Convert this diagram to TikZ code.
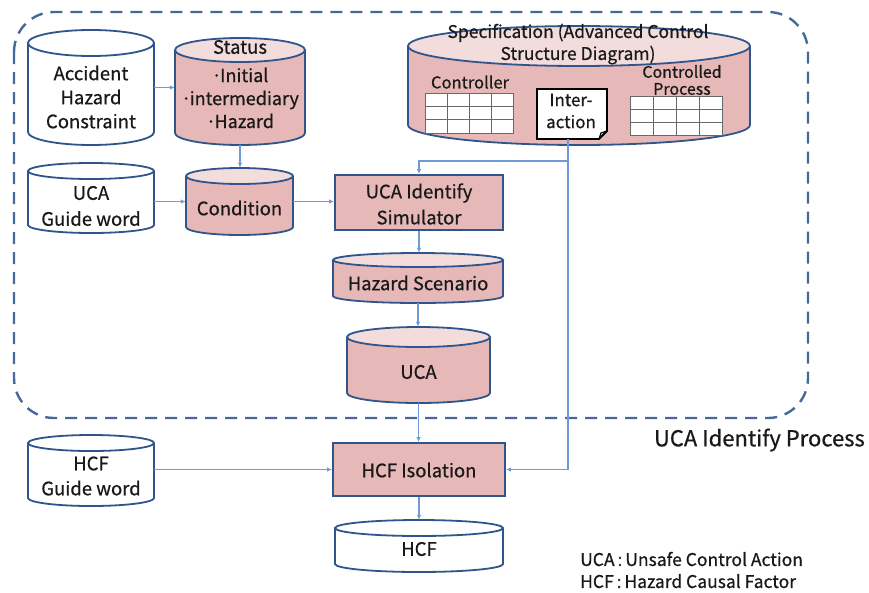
\documentclass[tikz,border=0pt]{standalone}
\usepackage{fontspec}
\setmainfont{Noto Sans CJK JP}[FakeBold=0.6]
\newfontfamily\heavyfont{Noto Sans CJK JP}[FakeBold=0.6]
\usetikzlibrary{arrows.meta}
\definecolor{frameblue}{RGB}{70,105,155}
\definecolor{edgeblue}{RGB}{47,85,140}
\definecolor{arrowblue}{RGB}{110,155,215}
\definecolor{pinkbody}{RGB}{230,184,183}
\definecolor{pinktop}{RGB}{242,221,220}
\definecolor{whitebody}{RGB}{255,255,255}
\definecolor{whitetop}{RGB}{255,255,255}
\definecolor{gridgray}{RGB}{105,105,105}
\newcommand\drawcyl[7]{%
  \pgfmathsetmacro\cyx{(#2+#4)/2}%
  \pgfmathsetmacro\cyrx{(#4-#2)/2}%
  \pgfmathsetmacro\cyt{#3+#6}%
  \pgfmathsetmacro\cyb{#5-#6}%
  \pgfmathsetmacro\cyy{(#3+#5)/2}%
  \pgfmathsetmacro\cyw{#4-#2}%
  \pgfmathsetmacro\cyh{#5-#3}%
  \fill[#7body] (#2,\cyt) rectangle (#4,\cyb);
  \fill[#7body] (\cyx,\cyb) ellipse[x radius=\cyrx, y radius=#6];
  \draw[cylline] (#2,\cyt) -- (#2,\cyb) arc[start angle=180, end angle=0, x radius=\cyrx, y radius=#6] -- (#4,\cyt);
  \draw[cylline, fill=#7top] (\cyx,\cyt) ellipse[x radius=\cyrx, y radius=#6];
  \node[inner sep=0pt, minimum width=\cyw pt, minimum height=\cyh pt] (#1) at (\cyx,\cyy) {};
}
\newcommand\bul{·\kern-1.5pt}
\begin{document}
\begin{tikzpicture}[x=1pt, y=-1pt,
  cylline/.style={draw=edgeblue, line width=1.8pt},
  procbox/.style={draw=edgeblue, line width=1.8pt, fill=pinkbody},
  arr/.style={draw=arrowblue, line width=1.1pt, -{Latex[length=5pt,width=4.5pt]}},
  plainline/.style={draw=arrowblue, line width=1.1pt},
  gridline/.style={draw=gridgray, line width=0.8pt},
  lbl/.style={inner sep=0pt, align=center, font=\heavyfont\fontsize{18.5}{24}\selectfont, text=black!90},
  small/.style={inner sep=0pt, align=center, font=\heavyfont\fontsize{16.5}{21}\selectfont, text=black!90},
  frame/.style={draw=frameblue, line width=2.4pt, dash pattern=on 12pt off 8pt, rounded corners=40pt}
]
\useasboundingbox (0,0) rectangle (869,592);
% frame
\draw[frame] (14,12) rectangle (808,418);
\node[inner sep=0pt, anchor=east, font=\heavyfont\fontsize{22}{24}\selectfont, text=black!90] (proclbl) at (865,440) {UCA Identify Process};

% cylinders
\drawcyl{acc}{28}{30}{154}{145}{13}{white}
\node[lbl] (accT) at (91,97) {Accident\\Hazard\\Constraint};

\drawcyl{status}{175}{38}{305}{145}{12}{pink}
\node[lbl] (statusT) at (240,47) {Status};
\node[lbl, font=\heavyfont\fontsize{18}{23}\selectfont] (statusL) at (240,98) {\bul Initial\\\bul intermediary\\\bul Hazard};

\drawcyl{ucagw}{28}{163}{154}{233}{8}{white}
\node[lbl, font=\heavyfont\fontsize{18.5}{26}\selectfont] (ucagwT) at (91,206) {UCA\\Guide word};

\drawcyl{cond}{186}{168}{293}{235}{8}{pink}
\node[lbl] (condT) at (239.5,208) {Condition};

\drawcyl{spec}{408}{26}{750}{145}{20}{pink}
\node[small, font=\heavyfont\fontsize{17.5}{22}\selectfont] (specT) at (578,44) {Specification (Advanced Control\\Structure Diagram)};
\node[small] (ctrlT) at (470,82) {Controller};
\draw[gridline, fill=white] (425,93) rectangle (513,133);
\foreach \i in {1,2,3} \draw[gridline] ({425+22*\i},93) -- ({425+22*\i},133);
\foreach \j in {1,2} \draw[gridline] (425,{93+13.33*\j}) -- (513,{93+13.33*\j});
\node[small, font=\heavyfont\fontsize{16}{17}\selectfont] (procT) at (682,80) {Controlled\\Process};
\draw[gridline, fill=white] (630,96) rectangle (722,135);
\foreach \i in {1,2,3} \draw[gridline] ({630+23*\i},96) -- ({630+23*\i},135);
\foreach \j in {1,2} \draw[gridline] (630,{96+13*\j}) -- (722,{96+13*\j});
\draw[black, line width=1.8pt, fill=white, line join=miter] (537,89) -- (607,89) -- (607,131) -- (599,139) -- (537,139) -- cycle;
\draw[black, line width=1.2pt] (607,131) -- (601,133) -- (599,139);
\node[inner sep=0pt, minimum width=70pt, minimum height=50pt] (inter) at (568,114) {};
\node[small, font=\heavyfont\fontsize{17}{22}\selectfont] (interT) at (571,111) {Inter-\\action};

% process boxes
\node[procbox, minimum width=168pt, minimum height=55pt, inner sep=0pt] (sim) at (419,202.5) {};
\node[lbl, font=\heavyfont\fontsize{18.5}{26}\selectfont] (simT) at (419,204) {UCA Identify\\Simulator};

\drawcyl{hs}{333}{253}{503}{303}{7}{pink}
\node[lbl] (hsT) at (418,283) {Hazard Scenario};

\drawcyl{uca}{347}{327}{490}{403}{10}{pink}
\node[lbl] (ucaT) at (418.5,372) {UCA};

\node[procbox, minimum width=172pt, minimum height=53pt, inner sep=0pt] (hcfiso) at (419,469.5) {};
\node[lbl] (hcfisoT) at (419,470) {HCF Isolation};

\drawcyl{hcfgw}{28}{435}{154}{506}{8}{white}
\node[lbl, font=\heavyfont\fontsize{18.5}{25}\selectfont] (hcfgwT) at (91,476) {HCF\\Guide word};

\drawcyl{hcf}{335}{520}{503}{572}{8}{white}
\node[lbl] (hcfT) at (419,549) {HCF};

% legend
\node[inner sep=0pt, anchor=west, font=\heavyfont\fontsize{17.5}{22}\selectfont, align=left, text=black!90] (legend) at (580,570) {UCA\,:\,Unsafe Control Action\\HCF\,:\,Hazard Causal Factor};

% connectors
\draw[arr] (acc.east) -- (acc.east -| status.west);
\draw[arr] (status.south) -- (status.south |- cond.north);
\draw[arr] (cond.west -| ucagw.east) -- (cond.west);
\draw[arr] (cond.east) -- (cond.east -| sim.west);
\coordinate (j1) at (inter.south |- 0,161);
\draw[plainline] (inter.south) -- (j1);
\draw[arr] (j1) -| (sim.north);
\draw[arr] (j1) -- (j1 |- hcfiso.east) -- (hcfiso.east);
\draw[arr] (sim.south) -- (sim.south |- hs.north);
\draw[arr] (hs.south) -- (hs.south |- uca.north);
\draw[arr] (uca.south) -- (uca.south |- hcfiso.north);
\draw[arr] (hcfiso.west -| hcfgw.east) -- (hcfiso.west);
\draw[arr] (hcfiso.south) -- (hcfiso.south |- hcf.north);
\end{tikzpicture}
\end{document}
